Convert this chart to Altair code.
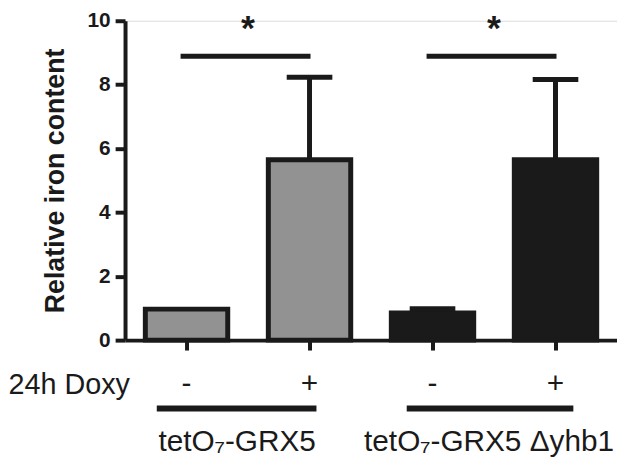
import altair as alt
import pandas as pd

# ---- data ----
conditions = ["GRX5 -", "GRX5 +", "yhb1 -", "yhb1 +"]
strain_key = ["GRX5", "GRX5", "yhb1", "yhb1"]
means = [0.97, 5.65, 0.85, 5.65]
err_top = [None, 8.23, 0.98, 8.16]

sig_from = ["GRX5 -", "yhb1 -"]
sig_to = ["GRX5 +", "yhb1 +"]
sig_level = [8.89, 8.89]
sig_text = ["*", "*"]

group_names = ["tetO\u2087-GRX5", "tetO\u2087-GRX5 \u0394yhb1"]
group_first = ["GRX5 -", "yhb1 -"]
group_last = ["GRX5 +", "yhb1 +"]

row_label = "24h Doxy"
y_title = "Relative iron content"

INK = "#1a1a1a"
FONT = "Liberation Sans"

bars_df = pd.DataFrame({"cond": conditions, "strain": strain_key, "mean": means})
err_df = pd.DataFrame({"cond": conditions, "mean": means, "top": err_top}).dropna()
sig_df = pd.DataFrame({"cond": sig_from, "end": sig_to, "level": sig_level, "txt": sig_text})
grp_df = pd.DataFrame({"cond": group_first, "end": group_last, "name": group_names})
row_df = pd.DataFrame({"txt": [row_label]})

x_enc = alt.X(
    "cond:N",
    sort=conditions,
    scale=alt.Scale(domain=conditions, paddingInner=0.33, paddingOuter=0.165),
    axis=alt.Axis(
        title=None,
        labelExpr="slice(datum.label, -1)",
        labelAngle=0,
        labelFontSize=30,
        labelFontWeight="normal",
        labelColor=INK,
        labelPadding=19,
        labelFont=FONT,
        tickSize=10,
        tickWidth=4,
        tickColor=INK,
        domainWidth=4,
        domainColor=INK,
    ),
)


def y_enc(field):
    return alt.Y(
        field,
        scale=alt.Scale(domain=[0, 10], nice=False),
        axis=alt.Axis(
            title=y_title,
            values=[0, 2, 4, 6, 8, 10],
            grid=False,
            labelFontSize=21,
            labelFontWeight="bold",
            labelColor=INK,
            labelFont=FONT,
            labelPadding=5,
            tickSize=10,
            tickWidth=4,
            tickColor=INK,
            domainWidth=4,
            domainColor=INK,
            titleFontSize=27,
            titleFontWeight="bold",
            titleColor=INK,
            titleFont=FONT,
            titlePadding=18,
        ),
    )


bars = alt.Chart(bars_df).mark_bar(stroke=INK, strokeWidth=5).encode(
    x=x_enc,
    y=y_enc("mean:Q"),
    color=alt.Color(
        "strain:N",
        scale=alt.Scale(domain=["GRX5", "yhb1"], range=["#929292", INK]),
        legend=None,
    ),
)

err_line = alt.Chart(err_df).mark_rule(color=INK, strokeWidth=5).encode(
    x=x_enc, y=y_enc("mean:Q"), y2="top:Q"
)
err_cap = alt.Chart(err_df).mark_tick(color=INK, size=46, thickness=5, opacity=1).encode(
    x=x_enc, y=y_enc("top:Q")
)

sig_line = alt.Chart(sig_df).mark_rule(color=INK, strokeWidth=5, xOffset=-6, x2Offset=1).encode(
    x=x_enc, x2="end:N", y=y_enc("level:Q")
)
sig_star = alt.Chart(sig_df).mark_text(
    font=FONT, fontSize=36, fontWeight="bold", color=INK, xOffset=62,
    baseline="alphabetic", dy=-16,
).encode(x=x_enc, y=y_enc("level:Q"), text="txt:N")

row_txt = alt.Chart(row_df).mark_text(
    font=FONT, fontSize=29, color=INK, align="right", baseline="middle"
).encode(x=alt.value(5), y=alt.value(367), text="txt:N")

grp1 = grp_df.iloc[[0]]
grp2 = grp_df.iloc[[1]]
g1_line = alt.Chart(grp1).mark_rule(color=INK, strokeWidth=6, xOffset=-30, x2Offset=7).encode(
    x=x_enc, x2="end:N", y=alt.value(391)
)
g2_line = alt.Chart(grp2).mark_rule(color=INK, strokeWidth=6, xOffset=-26, x2Offset=18).encode(
    x=x_enc, x2="end:N", y=alt.value(391)
)
g1_txt = alt.Chart(grp1).mark_text(
    font=FONT, fontSize=30, color=INK, baseline="middle", xOffset=51
).encode(x=x_enc, y=alt.value(425), text="name:N")
g2_txt = alt.Chart(grp2).mark_text(
    font=FONT, fontSize=30, color=INK, baseline="middle", xOffset=57
).encode(x=x_enc, y=alt.value(425), text="name:N")

chart = (
    alt.layer(bars, err_line, err_cap, sig_line, sig_star, row_txt, g1_line, g2_line, g1_txt, g2_txt)
    .properties(
        width=496,
        height=322,
        autosize=alt.AutoSizeParams(type="none"),
        padding={"left": 118, "top": 11, "right": 0, "bottom": 117},
    )
    .configure_view(stroke=None)
    .configure(font=FONT)
)

chart.save("out.html", embed_options={"renderer": "svg", "actions": False})
